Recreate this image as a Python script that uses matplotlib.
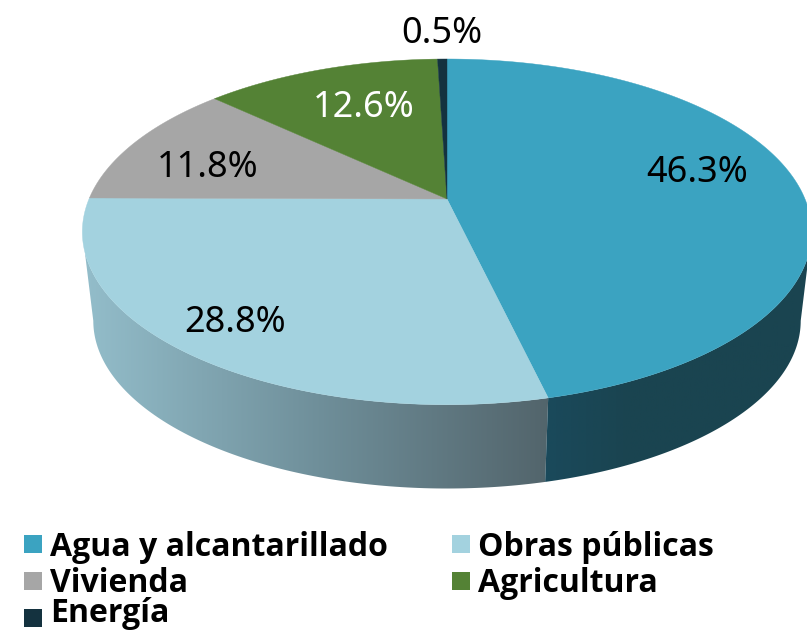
import matplotlib
matplotlib.use('Agg')
import matplotlib.pyplot as plt
import numpy as np
from matplotlib.colors import LinearSegmentedColormap
from matplotlib.patches import Polygon, Rectangle

categories = ['Agua y alcantarillado', 'Obras públicas', 'Vivienda', 'Agricultura', 'Energía']
values = [46.3, 28.8, 11.8, 12.6, 0.5]
labels = ['46.3%', '28.8%', '11.8%', '12.6%', '0.5%']
colors = ['#3BA3C1', '#A3D2DF', '#A6A6A6', '#548235', '#14323F']
label_colors = ['black', 'black', 'black', 'white', 'black']
label_pos = [(697, 173), (235, 323), (208, 168), (364, 108), (442, 34)]

# pie geometry, in pixels of the 807x632 picture
cx, cy = 447, 199
R, Q, k = 358, 166.6, 0.19
wall_dy, wall_scale = 90, 0.97


def project(a, scale=1.0, dy=0.0):
    # a is clockwise from the top, in degrees; far side of the disc is smaller
    t = np.radians(a)
    u, v = np.sin(t), np.cos(t)
    s = 1 / (1 + k * v)
    return cx + scale * R * u * s, cy + dy - scale * Q * v * s


def wall(a0, a1):
    a = np.linspace(a0, a1, 120)
    x0, y0 = project(a)
    x1, y1 = project(a, wall_scale, wall_dy)
    return np.column_stack([np.r_[x0, x1[::-1]], np.r_[y0, y1[::-1]]])


fig = plt.figure(figsize=(8.07, 6.32), dpi=100)
ax = fig.add_axes([0, 0, 1, 1])

edges = np.r_[0, np.cumsum(values)] / sum(values) * 360

# side walls, shaded from left to right
tangent = np.degrees(np.arcsin(k))
grad = np.linspace(0, 1, 256).reshape(1, -1)
light_cmap = LinearSegmentedColormap.from_list('light', ['#93BDCA', '#6F8F9A', '#52646B'])
dark_cmap = LinearSegmentedColormap.from_list('dark', ['#1A4A5C', '#1A4450', '#1A4450', '#1A4450'])

p = Polygon(wall(edges[1], 270 - tangent), closed=True, fc='none', ec='none')
ax.add_patch(p)
im = ax.imshow(grad, extent=[85, 552, 500, 190], cmap=light_cmap, aspect='auto')
im.set_clip_path(p)

p = Polygon(wall(90 + tangent, edges[1]), closed=True, fc='none', ec='none')
ax.add_patch(p)
im = ax.imshow(grad, extent=[540, 812, 500, 190], cmap=dark_cmap, aspect='auto')
im.set_clip_path(p)

# top face
for i in range(len(values)):
    a = np.linspace(edges[i], edges[i + 1], 200)
    x, y = project(a)
    ax.fill(np.r_[cx, x], np.r_[cy, y], color=colors[i], lw=0.3)

for i in range(len(values)):
    ax.text(label_pos[i][0], label_pos[i][1], labels[i], color=label_colors[i], fontsize=26,
            family='Noto Sans', weight='light', ha='center', va='center')

# legend, filled by columns like the original
legend_x = [24, 452]
legend_y = [547, 584, 621]
legend_text_y = [547, 584, 614]
legend_cells = [(0, 0), (1, 0), (0, 1), (1, 1), (0, 2)]
for i in range(len(categories)):
    c, r = legend_cells[i]
    ax.add_patch(Rectangle((legend_x[c], legend_y[r] - 12), 18, 18, fc=colors[i], ec='none'))
    ax.text(legend_x[c] + 26, legend_text_y[r], categories[i], fontsize=23, family='Open Sans',
            weight='bold', va='center', ha='left', color='black')

ax.set_xlim(0, 807)
ax.set_ylim(632, 0)
ax.axis('off')
fig.savefig('out.png', dpi=100)
